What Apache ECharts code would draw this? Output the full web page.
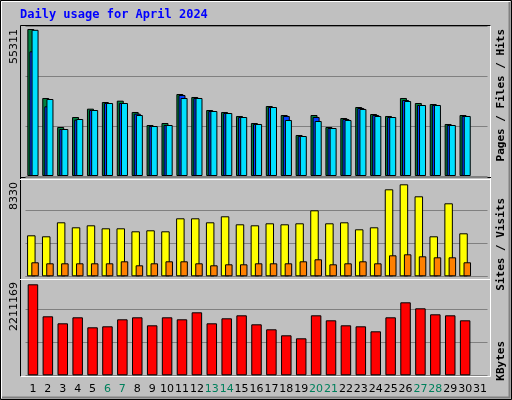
<!DOCTYPE html>
<html><head><meta charset="utf-8">
<script src="https://cdn.jsdelivr.net/npm/echarts@6/dist/echarts.min.js"></script>
<style>html,body{margin:0;padding:0;background:#c0c0c0}#c{width:512px;height:400px}</style>
</head><body><div id="c"></div>
<script>
const days = ['1','2','3','4','5','6','7','8','9','10','11','12','13','14','15','16','17','18','19','20','21','22','23','24','25','26','27','28','29','30','31'];
const weekend = ['6','7','13','14','20','21','27','28'];
const hits = [55311,29349,18437,22199,25335,27843,28345,24081,19189,19942,30853,29725,24833,24081,22576,19942,26338,22952,15427,22952,18437,21823,25962,23328,22576,29349,27467,27091,19566,22952,null];
const files = [46907,26213,17684,21196,24833,27467,27467,23454,18813,19189,30477,29349,24457,23704,22199,19566,25962,22576,15050,22199,18060,21447,25586,22952,22199,28596,26714,26714,19189,22576,null];
const pages = [55000,28972,17684,21447,24833,27467,27467,22952,18813,19189,29349,29349,24457,23704,22199,19566,25962,21071,15050,20694,18060,21071,25210,22576,22199,28220,26714,26714,19189,22576,null];
const visits = [3712,3622,4889,4436,4618,4346,4346,4074,4165,4074,5251,5251,4889,5432,4708,4618,4799,4708,4799,5976,4799,4889,4255,4436,7877,8330,7243,3622,6609,3893,null];
const sites = [1268,1177,1177,1177,1177,1177,1358,996,1177,1358,1358,1177,996,1086,1086,1177,1177,1177,1358,1539,1086,1177,1358,1177,1901,1992,1811,1720,1720,1268,null];
const kbytes = [2211169,1433612,1263522,1409313,1166328,1190627,1360716,1409313,1214925,1409313,1360716,1530806,1263522,1385015,1457910,1239224,1117731,971940,899045,1457910,1336418,1214925,1190627,1069134,1409313,1773791,1628000,1482209,1457910,1336418,null];
const yLabels = ['55311','8330','2211169'];

const L=25.5, W=462;
const grids=[{left:L,width:W,top:26,height:150},{left:L,width:W,top:177.3,height:99},{left:L,width:W,top:276.3,height:99}];
const maxes=[55311*150/147, 8330*99/92, 2211169*99/91];
const split={show:true,lineStyle:{color:'#808080',width:1}};
function xa(i){return {type:'category',gridIndex:i,data:days,axisLine:{show:false},axisTick:{show:false},
  axisLabel:{show:i===2,interval:0,fontFamily:'DejaVu Sans',fontSize:11,margin:8,
    color:(v)=>weekend.includes(v)?'#00805c':'#000'}};}
function ya(i){return {type:'value',gridIndex:i,min:0,max:maxes[i],interval:maxes[i]/3,axisLabel:{show:false},axisLine:{show:false},axisTick:{show:false},splitLine:split};}
const bs={borderColor:'#000',borderWidth:1};
const series=[
 {type:'bar',xAxisIndex:0,yAxisIndex:0,data:hits,barWidth:7,barGap:'-70%',itemStyle:{color:'#008040',...bs},animation:false},
 {type:'bar',xAxisIndex:0,yAxisIndex:0,data:files,barWidth:7,barGap:'-70%',itemStyle:{color:'#0040ff',...bs},animation:false},
 {type:'bar',xAxisIndex:0,yAxisIndex:0,data:pages,barWidth:7,barGap:'-70%',itemStyle:{color:'#00e0ff',...bs},animation:false},
 {type:'bar',xAxisIndex:1,yAxisIndex:1,data:visits,barWidth:8.5,barGap:'-50%',itemStyle:{color:'#ffff00',...bs},animation:false},
 {type:'bar',xAxisIndex:1,yAxisIndex:1,data:sites,barWidth:7.5,barGap:'-50%',itemStyle:{color:'#ff8000',...bs},animation:false},
 {type:'bar',xAxisIndex:2,yAxisIndex:2,data:kbytes,barWidth:10.5,itemStyle:{color:'#ff0000',...bs},animation:false}
];
const mono={fontFamily:'DejaVu Sans Mono',fontSize:11,fontWeight:'bold'};
function vtext(x,y,rich,text,align){return {type:'text',x:x,y:y,rotation:Math.PI/2,z:10,
  style:{text:text,align:align||'right',verticalAlign:'middle',rich:rich,...mono}};}
const rich={h:{color:'#008040',...mono},f:{color:'#0040ff',...mono},p:{color:'#00e0ff',...mono},s:{color:'#000',...mono},
  v:{color:'#ffff00',...mono},o:{color:'#ff8000',...mono},k:{color:'#ff0000',...mono}};
const graphic=[
 {type:'rect',shape:{x:0.5,y:0.5,width:511,height:399},style:{fill:'none',stroke:'#000',lineWidth:1},z:-1},
 {type:'polyline',shape:{points:[[1.5,398],[1.5,1.5],[510,1.5]]},style:{stroke:'#fff',lineWidth:1,fill:'none'},z:-1},
 {type:'polyline',shape:{points:[[2,397.5],[509.5,397.5],[509.5,2]]},style:{stroke:'#808080',lineWidth:2,fill:'none'},z:-1},
 {type:'polyline',shape:{points:[[20.5,376.5],[20.5,25.5],[491,25.5]]},style:{stroke:'#000',lineWidth:1,fill:'none'},z:-1},
 {type:'polyline',shape:{points:[[20.5,376.5],[490.5,376.5],[490.5,25.5]]},style:{stroke:'#fff',lineWidth:1,fill:'none'},z:-1},
 {type:'line',shape:{x1:20,y1:177.5,x2:491,y2:177.5},style:{stroke:'#000',lineWidth:1},z:-1},
 {type:'line',shape:{x1:20,y1:179.5,x2:491,y2:179.5},style:{stroke:'#fff',lineWidth:1},z:-1},
 {type:'line',shape:{x1:20,y1:279.5,x2:491,y2:279.5},style:{stroke:'#fff',lineWidth:1},z:-1},
 {type:'text',x:20,y:15,z:10,style:{text:'Daily usage for April 2024',fill:'#0000ff',verticalAlign:'middle',...mono,fontSize:12}},
 {type:'text',x:14,y:29,rotation:Math.PI/2,z:10,style:{text:yLabels[0],align:'right',verticalAlign:'middle',fill:'#000',fontFamily:'DejaVu Sans',fontSize:11}},
 {type:'text',x:14,y:182,rotation:Math.PI/2,z:10,style:{text:yLabels[1],align:'right',verticalAlign:'middle',fill:'#000',fontFamily:'DejaVu Sans',fontSize:11}},
 {type:'text',x:14,y:282,rotation:Math.PI/2,z:10,style:{text:yLabels[2],align:'right',verticalAlign:'middle',fill:'#000',fontFamily:'DejaVu Sans',fontSize:11}},
 vtext(501,29,rich,'{p|Pages}{s| / }{f|Files}{s| / }{h|Hits}'),
 vtext(501,198,rich,'{o|Sites}{s| / }{v|Visits}'),
 vtext(501,341,rich,'{k|KBytes}')
];
const chart=echarts.init(document.getElementById('c'));
chart.setOption({backgroundColor:'#c0c0c0',animation:false,grid:grids,xAxis:[xa(0),xa(1),xa(2)],yAxis:[ya(0),ya(1),ya(2)],series:series,graphic:graphic});
</script></body></html>
